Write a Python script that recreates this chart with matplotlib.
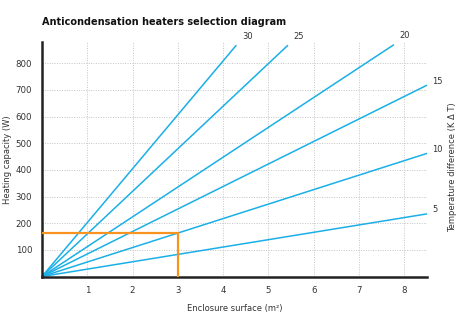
import matplotlib.pyplot as plt

# temperature difference (K) for each heater line, and where each line stops
delta_t = [5, 10, 15, 20, 25, 30]
end_surface = [8.5, 8.5, 8.5, 7.77, 5.43, 4.29]   # m2
end_power = [235, 462, 718, 870, 868, 868]        # W

# worked example: 3 m2 enclosure at 10 K
example_surface = 3
example_power = 165

x_ticks = [1, 2, 3, 4, 5, 6, 7, 8]
y_ticks = [100, 200, 300, 400, 500, 600, 700, 800]

blue = "#1aafe6"
orange = "#f7931e"
text_col = "#333333"

fig = plt.figure(figsize=(4.6, 3.31), dpi=100)
ax = fig.add_axes([42 / 460, 1 - 276.5 / 331, 385 / 460, 234.5 / 331])

ax.set_xlim(0, 8.5)
ax.set_ylim(0, 880)

# dotted grid
for x in x_ticks:
    ax.axvline(x, color="#c4c4c4", lw=0.7, ls=(0, (1, 1.5)), zorder=0)
for y in y_ticks:
    ax.axhline(y, color="#c4c4c4", lw=0.7, ls=(0, (1, 1.5)), zorder=0)

# one line per temperature difference, all from the origin
for dt, xe, ye in zip(delta_t, end_surface, end_power):
    ax.plot([0, xe], [0, ye], color=blue, lw=1.1, solid_capstyle="butt", clip_on=False)
    ax.annotate(str(dt), (xe, ye), xytext=(4, 3), textcoords="offset points",
                fontsize=6, color=text_col, ha="left", va="bottom" if dt >= 20 else "center",
                annotation_clip=False)

# example reading
ax.plot([0, example_surface, example_surface], [example_power, example_power, 0],
        color=orange, lw=1.6, solid_joinstyle="miter", zorder=3)

ax.set_xticks(x_ticks)
ax.set_yticks(y_ticks)
ax.tick_params(length=0, labelsize=6.2, labelcolor=text_col, pad=7)
for side in ["top", "right"]:
    ax.spines[side].set_visible(False)
for side in ["left", "bottom"]:
    ax.spines[side].set_linewidth(1.8)
    ax.spines[side].set_color("#222222")

ax.set_xlabel("Enclosure surface (m²)", fontsize=6, color=text_col, labelpad=6)
ax.set_ylabel("Heating capacity (W)", fontsize=6, color=text_col, labelpad=3)
fig.text(453 / 460, 1 - 167 / 331, "Temperature difference (K Δ T)", rotation=90,
         fontsize=6, color=text_col, ha="center", va="center")

fig.text(42 / 460, 1 - 22 / 331, "Anticondensation heaters selection diagram",
         fontsize=7, fontweight="bold", color="#111111", ha="left", va="center")

fig.savefig("out.png", dpi=100)
